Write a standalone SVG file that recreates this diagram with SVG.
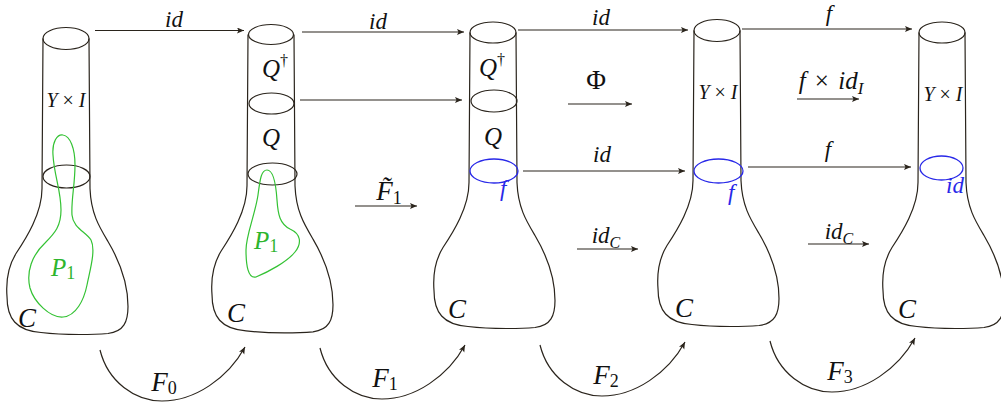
<svg xmlns="http://www.w3.org/2000/svg" xmlns:xlink="http://www.w3.org/1999/xlink" width="1001" height="408" viewBox="0 0 1001 408">
<style>
.ln{fill:none;stroke:#2a241c;stroke-width:1.2}
.gr{fill:none;stroke:#33c233;stroke-width:1.2}
.bl{fill:none;stroke:#2828e8;stroke-width:1.3}
.ar{fill:none;stroke:#2a241c;stroke-width:1.2;marker-end:url(#ah)}
</style>
<defs>
<marker id="ah" markerUnits="userSpaceOnUse" markerWidth="10" markerHeight="8" refX="7" refY="3" orient="auto">
<path d="M0,0 L7,3 L0,6 L1.5,3 Z" fill="#2a241c"/>
</marker>
<path id="flaskBody" d="M-23,0 L-24,150 C-24,175 -40,200 -50,215 C-58,228 -60,245 -59,258 C-59,280 -50,292 -25,294 C0,297 30,296 42,295 C58,293 62,283 62,268 C62,245 55,225 42,203 C33,188 25,175 24,150 L23,0"/>
<path id="curveArr" d="M100,350 C108,382 135,401 162,401 C195,401 228,378 245,347"/>
</defs>

<g font-family="Liberation Serif, DejaVu Serif, serif" font-style="italic" fill="#111">
<g id="flask1">
<use xlink:href="#flaskBody" class="ln" transform="translate(66,38.5)"/>
<ellipse class="ln" cx="66" cy="38.5" rx="23" ry="11"/>
<ellipse class="ln" cx="66.5" cy="176.5" rx="23.5" ry="11.5"/>
<path class="gr" d="M63,135 C70,136 75,148 75,165 C75,185 71,200 72,215 C73,228 86,232 91,240 C96,250 90,270 87,285 C84,300 76,316 63,317 C50,318 34,302 30,288 C26,272 32,255 45,243 C55,233 61,226 61,210 C61,190 54,175 53,155 C52,142 57,134 63,135 Z"/>
<text x="66" y="107" font-size="20" text-anchor="middle">Y <tspan font-style="normal">×</tspan> I</text>
<text x="51" y="276" font-size="25" fill="#2db52d">P<tspan font-style="normal" font-size="18" dy="3">1</tspan></text>
<text x="18" y="327" font-size="27">C</text>
</g>

<g id="flask2">
<use xlink:href="#flaskBody" class="ln" transform="translate(271,34.5) scale(1,1.008)"/>
<ellipse class="ln" cx="271" cy="34.5" rx="22.5" ry="10"/>
<ellipse class="ln" cx="271.5" cy="103.5" rx="22.5" ry="10.5"/>
<ellipse class="ln" cx="272.5" cy="174" rx="24.5" ry="11"/>
<path class="gr" d="M267,170 C274,170 276,185 277,200 C278,215 280,224 290,229 C301,234 302,243 295,252 C287,262 268,272 256,277 C248,279 246,265 246,250 C246,235 255,215 258,195 C260,180 261,170 267,170 Z"/>
<text x="262" y="77" font-size="25">Q<tspan font-style="normal" font-size="16" dy="-11">†</tspan></text>
<text x="271" y="146" font-size="25" text-anchor="middle">Q</text>
<text x="254" y="249" font-size="25" fill="#2db52d">P<tspan font-style="normal" font-size="18" dy="3">1</tspan></text>
<text x="227" y="322" font-size="27">C</text>
</g>

<g id="flask3">
<use xlink:href="#flaskBody" class="ln" transform="translate(493,32.5)"/>
<ellipse class="ln" cx="493" cy="32.5" rx="23" ry="10.5"/>
<ellipse class="ln" cx="494" cy="101" rx="23" ry="11"/>
<ellipse class="bl" cx="494" cy="171" rx="24" ry="12"/>
<text x="479" y="76" font-size="25">Q<tspan font-style="normal" font-size="16" dy="-11">†</tspan></text>
<text x="493" y="145" font-size="25" text-anchor="middle">Q</text>
<text x="500" y="196" font-size="23" fill="#2828e8">f</text>
<text x="448" y="318" font-size="27">C</text>
</g>

<g id="flask4">
<use xlink:href="#flaskBody" class="ln" transform="translate(717,30.5)"/>
<ellipse class="ln" cx="717" cy="30.5" rx="23" ry="11"/>
<ellipse class="bl" cx="718.5" cy="171" rx="24.5" ry="12"/>
<text x="718" y="99" font-size="20" text-anchor="middle">Y <tspan font-style="normal">×</tspan> I</text>
<text x="728" y="200" font-size="23" fill="#2828e8">f</text>
<text x="675" y="317" font-size="27">C</text>
</g>

<g id="flask5">
<use xlink:href="#flaskBody" class="ln" transform="translate(942,32.5)"/>
<ellipse class="ln" cx="942" cy="32.5" rx="23" ry="10.5"/>
<ellipse class="bl" cx="941.5" cy="168" rx="21.5" ry="12"/>
<text x="943" y="101" font-size="20" text-anchor="middle">Y <tspan font-style="normal">×</tspan> I</text>
<text x="946" y="193" font-size="23" fill="#2828e8">id</text>
<text x="898" y="318" font-size="27">C</text>
</g>

<g id="connectors">
<line class="ar" x1="95" y1="30.5" x2="244" y2="30.5"/>
<line class="ar" x1="302" y1="32" x2="464" y2="32"/>
<line class="ar" x1="300" y1="100" x2="462" y2="100"/>
<line class="ar" x1="355" y1="206" x2="417" y2="206"/>
<line class="ar" x1="518" y1="30" x2="688" y2="30"/>
<line class="ar" x1="568" y1="104" x2="632" y2="104"/>
<line class="ar" x1="523" y1="171" x2="685" y2="171"/>
<line class="ar" x1="577" y1="249" x2="638" y2="249"/>
<line class="ar" x1="742" y1="29" x2="912" y2="29"/>
<line class="ar" x1="797" y1="99" x2="859" y2="99"/>
<line class="ar" x1="748" y1="167" x2="911" y2="167"/>
<line class="ar" x1="808" y1="244" x2="869" y2="244"/>
<use xlink:href="#curveArr" class="ar"/>
<use xlink:href="#curveArr" class="ar" transform="translate(220,-2)"/>
<use xlink:href="#curveArr" class="ar" transform="translate(440,-5)"/>
<use xlink:href="#curveArr" class="ar" transform="translate(670,-9)"/>
</g>

<g id="labels" font-size="23" text-anchor="middle">
<text x="174" y="27">id</text>
<text x="378" y="29">id</text>
<text x="389" y="200" font-size="27">F̃<tspan font-style="normal" font-size="18" dy="4">1</tspan></text>
<text x="601" y="25">id</text>
<text x="596" y="89" font-size="27" font-style="normal">Φ</text>
<text x="602" y="162">id</text>
<text x="606" y="243">id<tspan font-size="16" dy="5">C</tspan></text>
<text x="829" y="21">f</text>
<text x="831" y="89" font-size="25" word-spacing="3">f <tspan font-style="normal">×</tspan> id<tspan font-size="17" dy="5">I</tspan></text>
<text x="828" y="157">f</text>
<text x="839" y="239">id<tspan font-size="16" dy="5">C</tspan></text>
<text x="164" y="391" font-size="27">F<tspan font-style="normal" font-size="18" dy="3">0</tspan></text>
<text x="385" y="387" font-size="27">F<tspan font-style="normal" font-size="18" dy="3">1</tspan></text>
<text x="606" y="384" font-size="27">F<tspan font-style="normal" font-size="18" dy="3">2</tspan></text>
<text x="840" y="380" font-size="27">F<tspan font-style="normal" font-size="18" dy="3">3</tspan></text>
</g>
</g>
</svg>
